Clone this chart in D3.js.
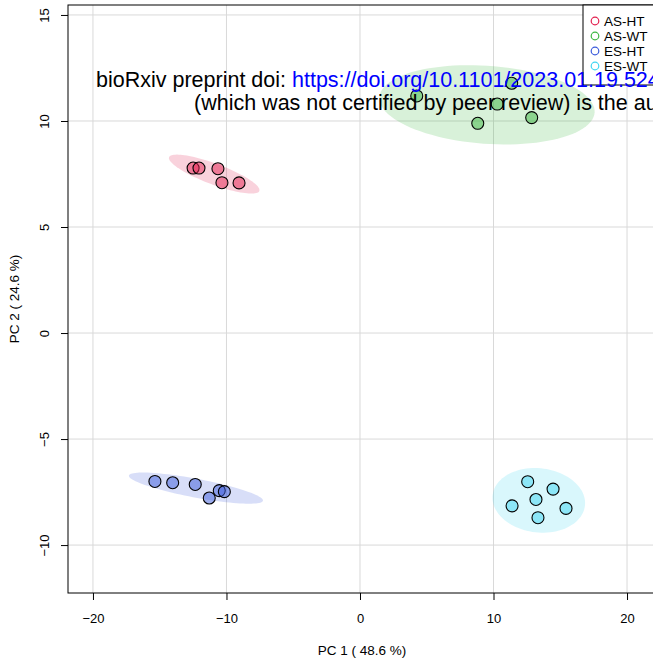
<!DOCTYPE html>
<html>
<head>
<meta charset="utf-8">
<script src="https://cdn.jsdelivr.net/npm/d3@7"></script>
<style>
  html, body { margin: 0; padding: 0; background: #fff; }
  svg { display: block; font-family: "Liberation Sans", Arial, sans-serif; }
</style>
</head>
<body>
<svg id="chart" width="653" height="663"></svg>
<script>
// PCA scores (PC1, PC2) per sample group
const groups = ["AS-HT", "AS-WT", "ES-HT", "ES-WT"];
const groupColors = ["#E3204F", "#3DB843", "#3B5BDB", "#3FD6F2"];

const pc1AS_HT = [-12.50, -12.06, -10.64, -10.34, -9.06];
const pc2AS_HT = [7.78, 7.78, 7.75, 7.09, 7.08];

const pc1AS_WT = [4.25, 11.36, 10.28, 8.82, 12.86];
const pc2AS_WT = [11.18, 11.78, 10.80, 9.89, 10.16];

const pc1ES_HT = [-15.36, -14.03, -12.34, -10.54, -10.16, -11.29];
const pc2ES_HT = [-7.00, -7.06, -7.14, -7.43, -7.48, -7.78];

const pc1ES_WT = [12.56, 14.46, 13.18, 11.39, 15.43, 13.33];
const pc2ES_WT = [-7.01, -7.36, -7.85, -8.15, -8.27, -8.71];

const xTicks = [-20, -10, 0, 10, 20];
const yTicks = [-10, -5, 0, 5, 10, 15];
const xTitle = "PC 1 ( 48.6 %)";
const yTitle = "PC 2 ( 24.6 %)";

const groupData = [
  { name: groups[0], color: groupColors[0], x: pc1AS_HT, y: pc2AS_HT },
  { name: groups[1], color: groupColors[1], x: pc1AS_WT, y: pc2AS_WT },
  { name: groups[2], color: groupColors[2], x: pc1ES_HT, y: pc2ES_HT },
  { name: groups[3], color: groupColors[3], x: pc1ES_WT, y: pc2ES_WT }
];

const svg = d3.select("#chart");
const box = { left: 68, top: 5, right: 656, bottom: 593 };

const x = d3.scaleLinear().domain([-21.87, 22.17]).range([box.left, box.right]);
const y = d3.scaleLinear().domain([-12.26, 15.47]).range([box.bottom, box.top]);

// grid
const grid = svg.append("g").attr("stroke", "#d9d9d9").attr("stroke-width", 1);
grid.selectAll("line.v").data(xTicks).join("line")
  .attr("x1", d => x(d)).attr("x2", d => x(d))
  .attr("y1", box.top).attr("y2", box.bottom);
grid.selectAll("line.h").data(yTicks).join("line")
  .attr("y1", d => y(d)).attr("y2", d => y(d))
  .attr("x1", box.left).attr("x2", box.right);

// 95% confidence ellipses from each group's covariance
const chi = Math.sqrt(5.991465);
function ellipsePoints(xs, ys) {
  const n = xs.length;
  const mx = d3.mean(xs), my = d3.mean(ys);
  let sxx = 0, syy = 0, sxy = 0;
  for (let i = 0; i < n; i++) {
    sxx += (xs[i] - mx) ** 2;
    syy += (ys[i] - my) ** 2;
    sxy += (xs[i] - mx) * (ys[i] - my);
  }
  sxx /= n - 1; syy /= n - 1; sxy /= n - 1;
  const sx = Math.sqrt(sxx), sy = Math.sqrt(syy);
  const d = Math.acos(sxy / (sx * sy));
  const pts = [];
  for (let k = 0; k < 100; k++) {
    const a = (k / 99) * 2 * Math.PI;
    pts.push([chi * sx * Math.cos(a + d / 2) + mx, chi * sy * Math.cos(a - d / 2) + my]);
  }
  return pts;
}

const plot = svg.append("g");
const line = d3.line().x(d => x(d[0])).y(d => y(d[1]));
groupData.forEach(g => {
  plot.append("path")
    .attr("d", line(ellipsePoints(g.x, g.y)) + "Z")
    .attr("fill", g.color).attr("fill-opacity", 0.2).attr("stroke", "none");
});
groupData.forEach(g => {
  plot.selectAll(null).data(g.x.map((v, i) => [v, g.y[i]])).join("circle")
    .attr("cx", d => x(d[0])).attr("cy", d => y(d[1])).attr("r", 6)
    .attr("fill", g.color).attr("fill-opacity", 0.5)
    .attr("stroke", "#000").attr("stroke-width", 1.1);
});

// frame
svg.append("rect")
  .attr("x", box.left).attr("y", box.top)
  .attr("width", box.right - box.left).attr("height", box.bottom - box.top)
  .attr("fill", "none").attr("stroke", "#000").attr("stroke-width", 1);

// axes
const xAxis = svg.append("g").attr("transform", `translate(0,${box.bottom})`)
  .call(d3.axisBottom(x).tickValues(xTicks).tickSize(7).tickPadding(14).tickFormat(d3.format("d")));
xAxis.select(".domain").remove();
xAxis.selectAll("text").attr("font-size", 13).attr("fill", "#000").attr("font-family", "Liberation Sans, Arial, sans-serif");

const yAxis = svg.append("g").attr("transform", `translate(${box.left},0)`)
  .call(d3.axisLeft(y).tickValues(yTicks).tickSize(7).tickFormat(d3.format("d")));
yAxis.select(".domain").remove();
yAxis.selectAll("text")
  .attr("font-size", 13).attr("fill", "#000").attr("font-family", "Liberation Sans, Arial, sans-serif")
  .attr("x", null).attr("dy", null)
  .attr("text-anchor", "middle")
  .attr("transform", "translate(-19,0) rotate(-90)");

svg.append("text").attr("x", (box.left + box.right) / 2).attr("y", 655)
  .attr("text-anchor", "middle").attr("font-size", 13.5).text(xTitle);
svg.append("text")
  .attr("transform", `translate(19,${(box.top + box.bottom) / 2}) rotate(-90)`)
  .attr("text-anchor", "middle").attr("font-size", 13.5).text(yTitle);

// legend
const legend = svg.append("g");
legend.append("rect").attr("x", 583).attr("y", 5).attr("width", 90).attr("height", 80)
  .attr("fill", "#fff").attr("stroke", "#000").attr("stroke-width", 1);
groupData.forEach((g, i) => {
  const ly = 21 + i * 15;
  legend.append("circle").attr("cx", 595).attr("cy", ly).attr("r", 3.8)
    .attr("fill", "none").attr("stroke", g.color).attr("stroke-width", 1.2);
  legend.append("text").attr("x", 604).attr("y", ly + 5).attr("font-size", 13.5).text(g.name);
});

// preprint notice laid over the figure
const note = svg.append("g").attr("font-size", 21.5);
const l1 = note.append("text").attr("x", 96).attr("y", 87);
l1.append("tspan").attr("fill", "#000").text("bioRxiv preprint doi: ");
l1.append("tspan").attr("fill", "#0000ff").text("https://doi.org/10.1101/2023.01.19.524");
note.append("text").attr("x", 194).attr("y", 110).attr("fill", "#000")
  .text("(which was not certified by peer review) is the author");
</script>
</body>
</html>
